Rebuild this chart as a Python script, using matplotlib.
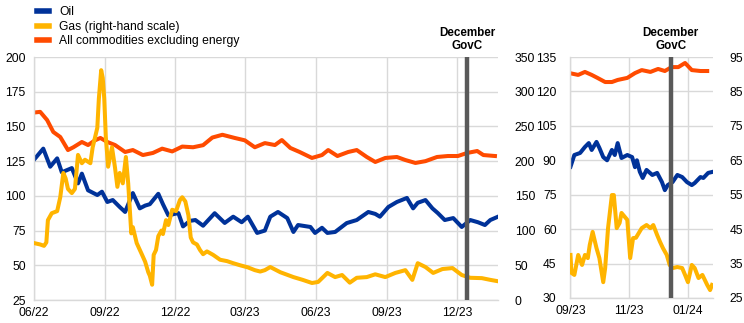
import pandas as pd
import matplotlib.pyplot as plt
import matplotlib.dates as mdates
from matplotlib.lines import Line2D

plt.rcParams['font.family'] = ['Liberation Sans', 'DejaVu Sans']

BLUE = '#003299'
YELLOW = '#ffb400'
ORANGE = '#ff4b00'
GRID = '#d9d9d9'
GOVC = '#595959'

'''1. Long window, June 2022 - January 2024'''
oil_dates = ['2022-06-01', '2022-06-13', '2022-06-22', '2022-07-01', '2022-07-07', '2022-07-20',
             '2022-07-28', '2022-08-02', '2022-08-10', '2022-08-22', '2022-08-28', '2022-09-04',
             '2022-09-11', '2022-09-20', '2022-09-27', '2022-10-07', '2022-10-16', '2022-10-23',
             '2022-10-29', '2022-11-09', '2022-11-15', '2022-11-22', '2022-12-05', '2022-12-11',
             '2022-12-20', '2022-12-27', '2023-01-06', '2023-01-21', '2023-02-03', '2023-02-14',
             '2023-02-25', '2023-03-05', '2023-03-17', '2023-03-27', '2023-04-03', '2023-04-13',
             '2023-04-25', '2023-05-03', '2023-05-09', '2023-05-25', '2023-05-31', '2023-06-09',
             '2023-06-16', '2023-06-26', '2023-07-11', '2023-07-24', '2023-08-08', '2023-08-17',
             '2023-08-23', '2023-09-03', '2023-09-14', '2023-09-27', '2023-10-05', '2023-10-11',
             '2023-10-21', '2023-10-30', '2023-11-06', '2023-11-15', '2023-11-26', '2023-12-07',
             '2023-12-18', '2023-12-28', '2024-01-06', '2024-01-13', '2024-01-23']
oil = [126, 134, 121, 127, 117, 120,
       109, 116, 104, 100.6, 103, 95.6,
       97, 92, 88.4, 102, 91, 93,
       94, 101.5, 94, 86, 87.6, 78,
       82, 82.6, 78.5, 87.5, 80.5, 85,
       81, 85, 73.3, 75, 85, 88.4,
       84, 74, 79, 77.6, 73.3, 77,
       73.3, 74, 80.4, 82.6, 88.4, 87,
       85, 92, 95.6, 98.5, 91, 95,
       97, 91, 87.6, 82.6, 84, 77.6,
       82.6, 81, 79, 82.6, 85]

nonenergy_dates = ['2022-06-01', '2022-06-09', '2022-06-18', '2022-06-26', '2022-07-05', '2022-07-15',
                   '2022-07-22', '2022-08-02', '2022-08-10', '2022-08-19', '2022-08-26', '2022-09-04',
                   '2022-09-14', '2022-09-27', '2022-10-07', '2022-10-20', '2022-11-02', '2022-11-14',
                   '2022-11-27', '2022-12-10', '2022-12-24', '2023-01-06', '2023-01-18', '2023-01-31',
                   '2023-02-16', '2023-03-01', '2023-03-14', '2023-03-27', '2023-04-09', '2023-04-18',
                   '2023-04-29', '2023-05-11', '2023-05-27', '2023-06-09', '2023-06-17', '2023-06-29',
                   '2023-07-13', '2023-07-24', '2023-08-06', '2023-08-17', '2023-08-30', '2023-09-14',
                   '2023-09-25', '2023-10-08', '2023-10-21', '2023-11-05', '2023-11-19', '2023-12-02',
                   '2023-12-14', '2023-12-27', '2024-01-04', '2024-01-19']
nonenergy = [160, 160.5, 154.6, 146, 142.4, 133,
             135, 138.8, 136.6, 140, 141.7, 138.8,
             136.6, 131.6, 133, 129.4, 130.9, 134,
             132, 135.5, 135, 136.5, 142, 144,
             141.7, 140, 135, 138, 136.6, 140.2,
             134.5, 131.6, 127.3, 129.4, 133, 128.7,
             131.6, 133, 128, 124.4, 127.3, 128,
             125.8, 123.7, 125, 128, 128.7, 128.7,
             130.9, 132.3, 129.4, 128.7]

gas_dates = ['2022-06-01', '2022-06-09', '2022-06-14', '2022-06-17', '2022-06-19', '2022-06-24',
             '2022-07-01', '2022-07-05', '2022-07-09', '2022-07-12', '2022-07-15', '2022-07-20',
             '2022-07-24', '2022-07-28', '2022-08-02', '2022-08-06', '2022-08-13', '2022-08-16',
             '2022-08-22', '2022-08-24', '2022-08-27', '2022-08-29', '2022-08-31', '2022-09-02',
             '2022-09-05', '2022-09-10', '2022-09-14', '2022-09-17', '2022-09-20', '2022-09-24',
             '2022-09-28', '2022-10-01', '2022-10-05', '2022-10-07', '2022-10-12', '2022-10-19',
             '2022-10-23', '2022-10-27', '2022-10-29', '2022-11-01', '2022-11-03', '2022-11-06',
             '2022-11-09', '2022-11-13', '2022-11-15', '2022-11-19', '2022-11-22', '2022-11-27',
             '2022-12-02', '2022-12-07', '2022-12-10', '2022-12-14', '2022-12-18', '2022-12-21',
             '2022-12-24', '2022-12-29', '2023-01-02', '2023-01-06', '2023-01-11', '2023-01-19',
             '2023-01-28', '2023-02-06', '2023-02-14', '2023-02-23', '2023-03-05', '2023-03-14',
             '2023-03-21', '2023-03-27', '2023-04-03', '2023-04-16', '2023-05-03', '2023-05-15',
             '2023-05-27', '2023-06-04', '2023-06-16', '2023-06-26', '2023-07-05', '2023-07-15',
             '2023-07-24', '2023-08-06', '2023-08-17', '2023-08-30', '2023-09-12', '2023-09-25',
             '2023-10-04', '2023-10-11', '2023-10-21', '2023-10-31', '2023-11-12', '2023-11-25',
             '2023-12-07', '2023-12-18', '2024-01-02', '2024-01-13', '2024-01-23']
gas = [82, 80, 78, 83, 115, 125,
       128, 148, 183, 175, 160, 154,
       160, 209, 197, 202, 197, 220,
       248, 290, 331, 320, 290, 235,
       192, 220, 190, 163, 183, 168,
       206, 168, 96, 105, 82, 65,
       55, 40, 35, 22, 65, 72,
       92, 100, 95, 115, 108, 130,
       128, 144, 148, 142, 122, 90,
       83, 80, 72, 66, 70, 65,
       58, 56, 53, 50, 47, 43,
       41, 43, 47.5, 40, 33, 29,
       24.5, 26, 39, 33, 36, 25,
       32, 33, 37, 33, 39, 43,
       29, 53, 47.5, 39, 44.6, 46,
       36, 32, 31.5, 29, 27]

'''2. Short window, September 2023 - January 2024'''
oil_s_dates = ['2023-09-01', '2023-09-05', '2023-09-11', '2023-09-16', '2023-09-20', '2023-09-23',
               '2023-09-28', '2023-10-01', '2023-10-05', '2023-10-09', '2023-10-14', '2023-10-17',
               '2023-10-20', '2023-10-24', '2023-10-30', '2023-11-04', '2023-11-07', '2023-11-09',
               '2023-11-12', '2023-11-15', '2023-11-19', '2023-11-25', '2023-11-30', '2023-12-05',
               '2023-12-08', '2023-12-11', '2023-12-16', '2023-12-21', '2023-12-26', '2023-12-31',
               '2024-01-05', '2024-01-08', '2024-01-14', '2024-01-17', '2024-01-22', '2024-01-26']
oil_s = [87.2, 92.3, 93.2, 95.8, 97.5, 94.5,
         98, 95.4, 91.4, 90, 94.5, 92.3,
         97.5, 91, 92.3, 91.4, 87, 90,
         85, 82.3, 85.8, 83.6, 84.5, 80.5,
         77, 79.2, 80.5, 83.6, 82.7, 80.5,
         79.2, 80.1, 82.7, 82.3, 84.5, 84.9]

nonenergy_s_dates = ['2023-09-01', '2023-09-09', '2023-09-16', '2023-09-23', '2023-09-29', '2023-10-07',
                     '2023-10-14', '2023-10-20', '2023-10-30', '2023-11-07', '2023-11-14', '2023-11-23',
                     '2023-12-01', '2023-12-08', '2023-12-15', '2023-12-22', '2023-12-29', '2024-01-05',
                     '2024-01-14', '2024-01-21']
nonenergy_s = [127.9, 127.2, 128.5, 127.2, 125.9, 124.1,
               124.1, 125, 125.9, 128, 129.3, 128.5,
               129.8, 128.9, 130.6, 130.6, 132.4, 129.3,
               128.9, 128.9]

gas_s_dates = ['2023-09-01', '2023-09-02', '2023-09-05', '2023-09-09', '2023-09-13', '2023-09-16',
               '2023-09-19', '2023-09-21', '2023-09-24', '2023-09-28', '2023-10-01', '2023-10-05',
               '2023-10-07', '2023-10-10', '2023-10-14', '2023-10-16', '2023-10-19', '2023-10-22',
               '2023-10-24', '2023-10-30', '2023-11-02', '2023-11-05', '2023-11-08', '2023-11-14',
               '2023-11-19', '2023-11-23', '2023-11-26', '2023-11-30', '2023-12-03', '2023-12-06',
               '2023-12-10', '2023-12-13', '2023-12-16', '2023-12-21', '2023-12-26', '2023-12-29',
               '2024-01-01', '2024-01-05', '2024-01-08', '2024-01-12', '2024-01-16', '2024-01-21',
               '2024-01-24', '2024-01-26']
gas_s = [37.5, 32.3, 31.7, 37.5, 34.6, 37.5,
         36.6, 40.4, 44.2, 39.5, 36.6, 29.6,
         33.7, 45.3, 54.9, 54.9, 45.3, 46.8,
         49.7, 47.7, 36.6, 42.4, 42.5, 45.3,
         46.2, 45.3, 46.2, 43.3, 41.3, 39.5,
         37.5, 34.6, 33.7, 34, 33.7, 31.7,
         29.6, 34.6, 33.7, 30.8, 31.7, 28.8,
         27.3, 28.8]

govc_date = pd.Timestamp('2023-12-14')

'''3. Plotting'''
fig = plt.figure(figsize=(7.44, 3.23), dpi=100)
ax_l = fig.add_axes([0.0457, 0.0712, 0.6237, 0.7523])
ax_r = fig.add_axes([0.7668, 0.0774, 0.1915, 0.7461])


def style_axes(ax, ax2, left_pad, right_pad):
    ax.set_axisbelow(True)
    ax.grid(True, color=GRID, linewidth=1.0)
    for side in ['top', 'right']:
        ax.spines[side].set_visible(False)
    for side in ['left', 'bottom']:
        ax.spines[side].set_color(GRID)
        ax.spines[side].set_linewidth(1.0)
    for side in ['top', 'right', 'left', 'bottom']:
        ax2.spines[side].set_visible(False)
    ax.tick_params(axis='y', length=0, pad=left_pad, labelsize=8.7, colors='#000000')
    ax.tick_params(axis='x', length=0, pad=5, labelsize=8.7, colors='#000000')
    ax2.tick_params(axis='y', length=0, pad=right_pad, labelsize=8.7, colors='#000000')
    ax.xaxis.set_major_formatter(mdates.DateFormatter('%m/%y'))


def govc_line(ax):
    ax.axvline(govc_date, color=GOVC, linewidth=3.2, zorder=10)
    ax.text(govc_date, 1.022, 'December\nGovC', transform=ax.get_xaxis_transform(),
            ha='center', va='bottom', fontsize=8.4, fontweight='bold', linespacing=1.1)


lw = 2.9

# long window
ax_l2 = ax_l.twinx()
ax_l.plot(pd.to_datetime(oil_dates), oil, color=BLUE, linewidth=lw)
ax_l.plot(pd.to_datetime(nonenergy_dates), nonenergy, color=ORANGE, linewidth=lw)
ax_l2.plot(pd.to_datetime(gas_dates), gas, color=YELLOW, linewidth=lw)
ax_l.set_ylim(25, 200)
ax_l.set_yticks(range(25, 201, 25))
ax_l2.set_ylim(0, 350)
ax_l2.set_yticks(range(0, 351, 50))
ax_l.set_xlim(pd.Timestamp('2022-06-01'), pd.Timestamp('2024-01-23'))
ax_l.set_xticks(pd.to_datetime(['2022-06-01', '2022-09-01', '2022-12-01', '2023-03-01',
                                '2023-06-01', '2023-09-01', '2023-12-01']))
style_axes(ax_l, ax_l2, 6, 12)
govc_line(ax_l2)

# short window
ax_r2 = ax_r.twinx()
ax_r.plot(pd.to_datetime(oil_s_dates), oil_s, color=BLUE, linewidth=lw)
ax_r.plot(pd.to_datetime(nonenergy_s_dates), nonenergy_s, color=ORANGE, linewidth=lw)
ax_r2.plot(pd.to_datetime(gas_s_dates), gas_s, color=YELLOW, linewidth=lw)
ax_r.set_ylim(30, 135)
ax_r.set_yticks(range(30, 136, 15))
ax_r2.set_ylim(25, 95)
ax_r2.set_yticks(range(25, 96, 10))
ax_r.set_xlim(pd.Timestamp('2023-09-01'), pd.Timestamp('2024-01-27'))
ax_r.set_xticks(pd.to_datetime(['2023-09-01', '2023-11-01', '2024-01-01']))
style_axes(ax_r, ax_r2, 10, 12)
govc_line(ax_r2)

handles = [Line2D([], [], color=BLUE, linewidth=4),
           Line2D([], [], color=YELLOW, linewidth=4),
           Line2D([], [], color=ORANGE, linewidth=4)]
labels = ['Oil', 'Gas (right-hand scale)', 'All commodities excluding energy']
fig.legend(handles, labels, loc='upper left', bbox_to_anchor=(0.043, 0.995), frameon=False,
           fontsize=8.7, handlelength=1.0, handletextpad=0.85, labelspacing=0.2, borderaxespad=0)

fig.savefig('out.png', dpi=100)
